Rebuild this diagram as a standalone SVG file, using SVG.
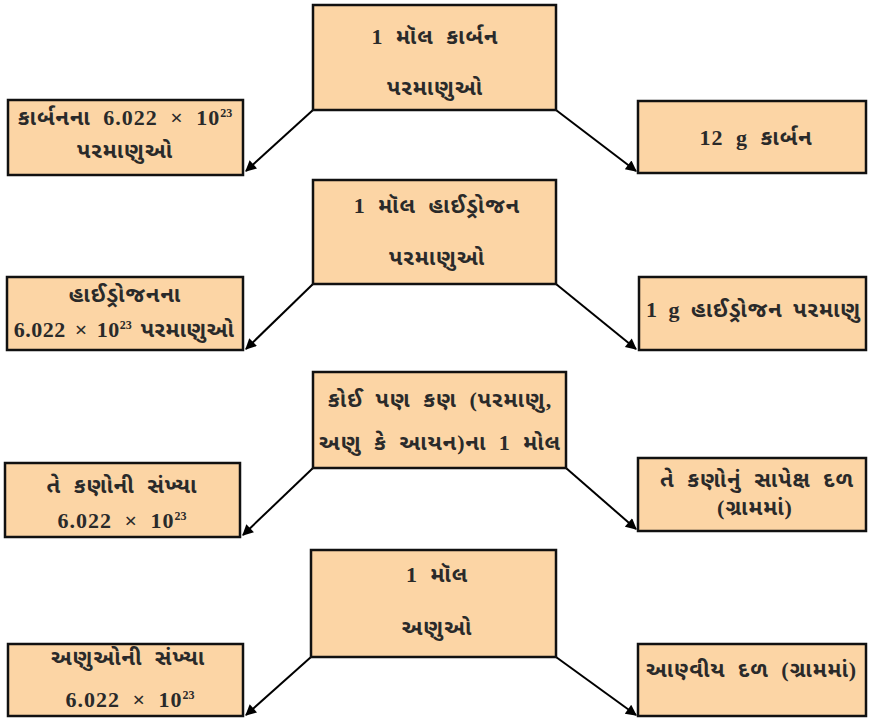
<svg xmlns="http://www.w3.org/2000/svg" width="869" height="719" viewBox="0 0 869 719">
<defs>
<style>
.box{fill:#FCD5A5;stroke:#111;stroke-width:2.5}
.t{font-family:"Liberation Serif","Noto Sans Gujarati","Noto Serif Gujarati","Lohit Gujarati",serif;font-size:22px;font-weight:bold;fill:#2a2a2a;text-anchor:middle;letter-spacing:1px;word-spacing:6px}
.s{text-anchor:start}
.sup{font-size:12px;letter-spacing:0}
.c{stroke:#000;stroke-width:2;fill:none;marker-end:url(#ah)}
</style>
<marker id="ah" viewBox="0 0 10 10" refX="9" refY="5" markerWidth="13" markerHeight="11" orient="auto" markerUnits="userSpaceOnUse">
<path d="M0,0 L10,5 L0,10 z" fill="#000"/>
</marker>
</defs>
<rect width="869" height="719" fill="#fff"/>
<g id="connectors">
<line class="c" x1="313" y1="110" x2="246" y2="171"/>
<line class="c" x1="556" y1="110" x2="636" y2="171"/>
<line class="c" x1="313" y1="284" x2="246" y2="349"/>
<line class="c" x1="556" y1="284" x2="636" y2="349"/>
<line class="c" x1="313" y1="468" x2="243" y2="535"/>
<line class="c" x1="566" y1="468" x2="636" y2="529"/>
<line class="c" x1="311" y1="657" x2="246" y2="715"/>
<line class="c" x1="556" y1="657" x2="636" y2="715"/>
</g>
<g id="n1">
<rect class="box" x="313" y="5" width="243" height="105"/>
<text class="t" x="435" y="44">1 મૉલ કાર્બન</text>
<text class="t" x="435" y="95">પરમાણુઓ</text>
</g>
<g id="n1l">
<rect class="box" x="8" y="100" width="235" height="75"/>
<text class="t" x="125" y="125">કાર્બનના  6.022 × 10<tspan class="sup" dy="-8">23</tspan></text>
<text class="t" x="125" y="158">પરમાણુઓ</text>
</g>
<g id="n1r">
<rect class="box" x="638" y="101" width="228" height="72"/>
<text class="t" x="756" y="145">12 g  કાર્બન</text>
</g>
<g id="n2">
<rect class="box" x="313" y="180" width="243" height="104"/>
<text class="t" x="437" y="213">1 મૉલ હાઈડ્રોજન</text>
<text class="t" x="437" y="265">પરમાણુઓ</text>
</g>
<g id="n2l">
<rect class="box" x="7" y="277" width="236" height="73"/>
<text class="t" x="125" y="302">હાઈડ્રોજનના</text>
<text class="t" x="124" y="337" style="word-spacing:3px;letter-spacing:0.5px">6.022 × 10<tspan class="sup" dy="-8">23</tspan><tspan dy="8">  પરમાણુઓ</tspan></text>
</g>
<g id="n2r">
<rect class="box" x="639" y="277" width="227" height="73"/>
<text class="t s" x="646" y="317" style="word-spacing:4px">1  g હાઈડ્રોજન પરમાણુ</text>
</g>
<g id="n3">
<rect class="box" x="313" y="372" width="253" height="96"/>
<text class="t" x="440" y="407">કોઈ પણ કણ (પરમાણુ,</text>
<text class="t" x="440" y="450">અણુ કે આયન)ના 1 મોલ</text>
</g>
<g id="n3l">
<rect class="box" x="5" y="463" width="235" height="74"/>
<text class="t" x="122" y="493">તે કણોની સંખ્યા</text>
<text class="t" x="122" y="528">6.022 × 10<tspan class="sup" dy="-8">23</tspan></text>
</g>
<g id="n3r">
<rect class="box" x="638" y="458" width="228" height="73"/>
<text class="t" x="757" y="487">તે કણોનું સાપેક્ષ દળ</text>
<text class="t" x="755" y="515">(ગ્રામમાં)</text>
</g>
<g id="n4">
<rect class="box" x="311" y="550" width="245" height="107"/>
<text class="t" x="437" y="582">1 મૉલ</text>
<text class="t" x="437" y="635">અણુઓ</text>
</g>
<g id="n4l">
<rect class="box" x="8" y="644" width="235" height="72"/>
<text class="t" x="128" y="665">અણુઓની  સંખ્યા</text>
<text class="t" x="130" y="707">6.022 × 10<tspan class="sup" dy="-8">23</tspan></text>
</g>
<g id="n4r">
<rect class="box" x="638" y="644" width="228" height="72"/>
<text class="t s" x="646" y="677">આણ્વીય દળ (ગ્રામમાં)</text>
</g>
</svg>
